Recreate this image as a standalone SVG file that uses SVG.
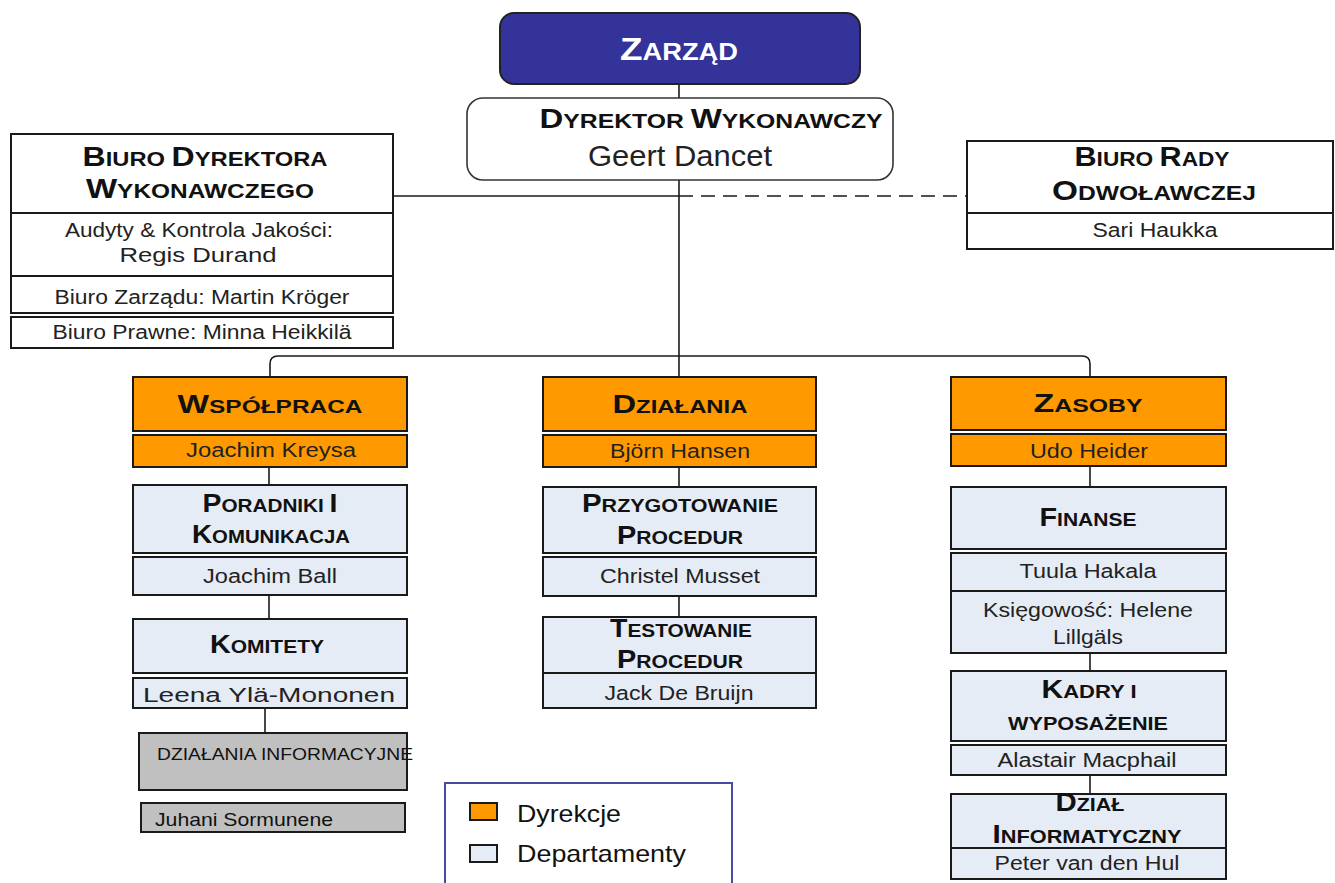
<svg xmlns="http://www.w3.org/2000/svg" width="1335" height="883" viewBox="0 0 1335 883">
<style>
.bx{stroke:#1a1a1a;stroke-width:2}
.or{fill:#FF9900}
.lt{fill:#E6ECF6}
.gr{fill:#C0C0C0}
.wh{fill:#FFFFFF}
.t{font-family:"Liberation Sans",Arial,sans-serif;font-weight:bold;fill:#111;font-size:19px;text-anchor:middle}
.t .c{font-size:26px}
.tb{font-size:20px}
.tb .c{font-size:27px}
.b{font-family:"Liberation Sans",Arial,sans-serif;fill:#222;font-size:20px;text-anchor:middle}
.cn{fill:none;stroke:#1a1a1a;stroke-width:1.6}
</style>
<g id="connectors">
<line class="cn" x1="679" y1="84" x2="679" y2="98"/>
<line class="cn" x1="679" y1="180" x2="679" y2="377"/>
<line class="cn" x1="392" y1="196" x2="679" y2="196"/>
<line class="cn" x1="679" y1="196" x2="967" y2="196" stroke-dasharray="14 8"/>
<path class="cn" d="M270 377 V364 Q270 356 278 356 H1082 Q1090 356 1090 364 V377"/>
<line class="cn" x1="269" y1="467" x2="269" y2="485"/>
<line class="cn" x1="269" y1="595" x2="269" y2="619"/>
<line class="cn" x1="265" y1="708" x2="265" y2="733"/>
<line class="cn" x1="679" y1="467" x2="679" y2="487"/>
<line class="cn" x1="679" y1="596" x2="679" y2="617"/>
<line class="cn" x1="1090" y1="466" x2="1090" y2="487"/>
<line class="cn" x1="1090" y1="653" x2="1090" y2="671"/>
<line class="cn" x1="1090" y1="775" x2="1090" y2="794"/>
</g>
<g id="zarzad">
<rect x="500" y="13" width="360" height="71" rx="14" fill="#333399" stroke="#222" stroke-width="2"/>
<text x="679" y="60" textLength="118" lengthAdjust="spacingAndGlyphs" style="font-family:'Liberation Sans',Arial,sans-serif;font-weight:bold;fill:#fff;font-size:23px;text-anchor:middle"><tspan style="font-size:31px">Z</tspan>ARZĄD</text>
</g>
<g id="dyrektor">
<rect x="467" y="98" width="426" height="82" rx="16" class="wh" stroke="#333" stroke-width="1.6"/>
<text class="t" x="711" y="128" textLength="343" lengthAdjust="spacingAndGlyphs" style="font-size:21px"><tspan style="font-size:28px">D</tspan>YREKTOR <tspan style="font-size:28px">W</tspan>YKONAWCZY</text>
<text class="b" x="680" y="166" textLength="184" lengthAdjust="spacingAndGlyphs" style="font-size:29px">Geert Dancet</text>
</g>
<g id="biuro-dyrektora">
<rect x="11" y="134" width="382" height="79" class="wh bx"/>
<rect x="11" y="213" width="382" height="63" class="wh bx"/>
<rect x="11" y="276" width="382" height="37" class="wh bx"/>
<rect x="11" y="317" width="382" height="31" class="wh bx"/>
<text class="t tb" x="205" y="166" textLength="245" lengthAdjust="spacingAndGlyphs"><tspan class="c">B</tspan>IURO <tspan class="c">D</tspan>YREKTORA</text>
<text class="t tb" x="200" y="198" textLength="228" lengthAdjust="spacingAndGlyphs"><tspan class="c">W</tspan>YKONAWCZEGO</text>
<text class="b" x="199" y="237" textLength="268" lengthAdjust="spacingAndGlyphs">Audyty &amp; Kontrola Jakości:</text>
<text class="b" x="198" y="262" textLength="157" lengthAdjust="spacingAndGlyphs">Regis Durand</text>
<text class="b" x="202" y="304" textLength="295" lengthAdjust="spacingAndGlyphs">Biuro Zarządu: Martin Kröger</text>
<text class="b" x="202" y="339" textLength="299" lengthAdjust="spacingAndGlyphs">Biuro Prawne: Minna Heikkilä</text>
</g>
<g id="biuro-rady">
<rect x="967" y="141" width="366" height="72" class="wh bx"/>
<rect x="967" y="213" width="366" height="36" class="wh bx"/>
<text class="t tb" x="1152" y="166" textLength="155" lengthAdjust="spacingAndGlyphs"><tspan class="c">B</tspan>IURO <tspan class="c">R</tspan>ADY</text>
<text class="t tb" x="1154" y="200" textLength="204" lengthAdjust="spacingAndGlyphs"><tspan class="c">O</tspan>DWOŁAWCZEJ</text>
<text class="b" x="1155" y="237" textLength="125" lengthAdjust="spacingAndGlyphs">Sari Haukka</text>
</g>
<g id="wspolpraca">
<rect x="133" y="377" width="274" height="54" class="or bx"/>
<rect x="133" y="435" width="274" height="32" class="or bx"/>
<text class="t" x="270" y="413" textLength="185" lengthAdjust="spacingAndGlyphs"><tspan class="c">W</tspan>SPÓŁPRACA</text>
<text class="b" x="271" y="457" textLength="170" lengthAdjust="spacingAndGlyphs">Joachim Kreysa</text>
</g>
<g id="poradniki">
<rect x="133" y="485" width="274" height="68" class="lt bx"/>
<rect x="133" y="557" width="274" height="38" class="lt bx"/>
<text class="t" x="270" y="512" textLength="135" lengthAdjust="spacingAndGlyphs"><tspan class="c">P</tspan>ORADNIKI <tspan class="c">I</tspan></text>
<text class="t" x="271" y="543" textLength="158" lengthAdjust="spacingAndGlyphs"><tspan class="c">K</tspan>OMUNIKACJA</text>
<text class="b" x="270" y="583" textLength="134" lengthAdjust="spacingAndGlyphs">Joachim Ball</text>
</g>
<g id="komitety">
<rect x="133" y="619" width="274" height="54" class="lt bx"/>
<rect x="133" y="678" width="274" height="30" class="lt bx"/>
<text class="t" x="267" y="653" textLength="114" lengthAdjust="spacingAndGlyphs"><tspan class="c">K</tspan>OMITETY</text>
<text class="b" x="269" y="702" textLength="252" lengthAdjust="spacingAndGlyphs">Leena Ylä-Mononen</text>
</g>
<g id="dzialania-informacyjne">
<rect x="139" y="733" width="268" height="57" class="gr bx"/>
<rect x="141" y="803" width="264" height="29" class="gr bx"/>
<text x="157" y="760" textLength="256" lengthAdjust="spacingAndGlyphs" style="font-family:'Liberation Sans',Arial,sans-serif;fill:#111;font-size:17px">DZIAŁANIA INFORMACYJNE</text>
<text x="155" y="826" textLength="178" lengthAdjust="spacingAndGlyphs" style="font-family:'Liberation Sans',Arial,sans-serif;fill:#111;font-size:19px">Juhani Sormunene</text>
</g>
<g id="dzialania">
<rect x="543" y="377" width="273" height="54" class="or bx"/>
<rect x="543" y="435" width="273" height="32" class="or bx"/>
<text class="t" x="680" y="413" textLength="135" lengthAdjust="spacingAndGlyphs"><tspan class="c">D</tspan>ZIAŁANIA</text>
<text class="b" x="680" y="458" textLength="140" lengthAdjust="spacingAndGlyphs">Björn Hansen</text>
</g>
<g id="przygotowanie">
<rect x="543" y="487" width="273" height="66" class="lt bx"/>
<rect x="543" y="557" width="273" height="39" class="lt bx"/>
<text class="t" x="680" y="512" textLength="196" lengthAdjust="spacingAndGlyphs"><tspan class="c">P</tspan>RZYGOTOWANIE</text>
<text class="t" x="680" y="544" textLength="126" lengthAdjust="spacingAndGlyphs"><tspan class="c">P</tspan>ROCEDUR</text>
<text class="b" x="680" y="583" textLength="160" lengthAdjust="spacingAndGlyphs">Christel Musset</text>
</g>
<g id="testowanie">
<rect x="543" y="617" width="273" height="56" class="lt bx"/>
<rect x="543" y="673" width="273" height="35" class="lt bx"/>
<text class="t" x="681" y="637" textLength="142" lengthAdjust="spacingAndGlyphs"><tspan class="c">T</tspan>ESTOWANIE</text>
<text class="t" x="680" y="668" textLength="126" lengthAdjust="spacingAndGlyphs"><tspan class="c">P</tspan>ROCEDUR</text>
<text class="b" x="679" y="700" textLength="149" lengthAdjust="spacingAndGlyphs">Jack De Bruijn</text>
</g>
<g id="zasoby">
<rect x="951" y="377" width="275" height="53" class="or bx"/>
<rect x="951" y="434" width="275" height="32" class="or bx"/>
<text class="t" x="1088" y="412" textLength="109" lengthAdjust="spacingAndGlyphs"><tspan class="c">Z</tspan>ASOBY</text>
<text class="b" x="1089" y="458" textLength="118" lengthAdjust="spacingAndGlyphs">Udo Heider</text>
</g>
<g id="finanse">
<rect x="951" y="487" width="275" height="62" class="lt bx"/>
<rect x="951" y="553" width="275" height="38" class="lt bx"/>
<rect x="951" y="591" width="275" height="62" class="lt bx"/>
<text class="t" x="1088" y="526" textLength="97" lengthAdjust="spacingAndGlyphs"><tspan class="c">F</tspan>INANSE</text>
<text class="b" x="1088" y="578" textLength="137" lengthAdjust="spacingAndGlyphs">Tuula Hakala</text>
<text class="b" x="1088" y="617" textLength="210" lengthAdjust="spacingAndGlyphs">Księgowość: Helene</text>
<text class="b" x="1088" y="644" textLength="70" lengthAdjust="spacingAndGlyphs">Lillgäls</text>
</g>
<g id="kadry">
<rect x="951" y="671" width="275" height="70" class="lt bx"/>
<rect x="951" y="745" width="275" height="30" class="lt bx"/>
<text class="t" x="1089" y="698" textLength="95" lengthAdjust="spacingAndGlyphs"><tspan class="c">K</tspan>ADRY I</text>
<text class="t" x="1088" y="730" textLength="160" lengthAdjust="spacingAndGlyphs">WYPOSAŻENIE</text>
<text class="b" x="1087" y="767" textLength="179" lengthAdjust="spacingAndGlyphs">Alastair Macphail</text>
</g>
<g id="dzial-informatyczny">
<rect x="951" y="794" width="275" height="54" class="lt bx"/>
<rect x="951" y="848" width="275" height="31" class="lt bx"/>
<text class="t" x="1090" y="811" textLength="69" lengthAdjust="spacingAndGlyphs"><tspan class="c">D</tspan>ZIAŁ</text>
<text class="t" x="1087" y="843" textLength="189" lengthAdjust="spacingAndGlyphs"><tspan class="c">I</tspan>NFORMATYCZNY</text>
<text class="b" x="1087" y="870" textLength="185" lengthAdjust="spacingAndGlyphs">Peter van den Hul</text>
</g>
<g id="legend">
<rect x="445" y="783" width="287" height="112" fill="#fff" stroke="#4a4aa0" stroke-width="2"/>
<rect x="470" y="803" width="27" height="17" class="or bx"/>
<rect x="470" y="845" width="27" height="17" class="lt bx"/>
<text x="517" y="822" textLength="104" lengthAdjust="spacingAndGlyphs" style="font-family:'Liberation Sans',Arial,sans-serif;fill:#111;font-size:24px">Dyrekcje</text>
<text x="517" y="862" textLength="169" lengthAdjust="spacingAndGlyphs" style="font-family:'Liberation Sans',Arial,sans-serif;fill:#111;font-size:24px">Departamenty</text>
</g>
</svg>
